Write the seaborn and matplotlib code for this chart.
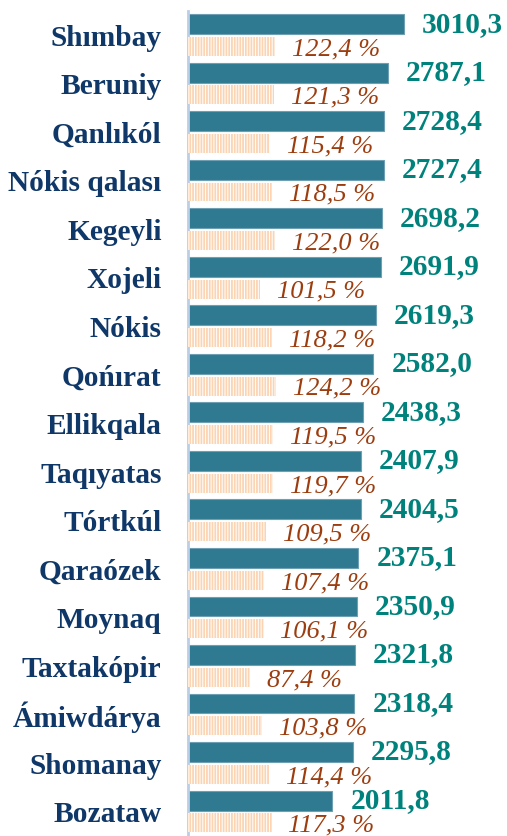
import numpy as np
import pandas as pd
import matplotlib
matplotlib.use("Agg")
import matplotlib.pyplot as plt
import seaborn as sns

# data
districts = ["Shımbay", "Beruniy", "Qanlıkól", "Nókis qalası", "Kegeyli", "Xojeli",
             "Nókis", "Qońırat", "Ellikqala", "Taqıyatas", "Tórtkúl", "Qaraózek",
             "Moynaq", "Taxtakópir", "Ámiwdárya", "Shomanay", "Bozataw"]
values = [3010.3, 2787.1, 2728.4, 2727.4, 2698.2, 2691.9, 2619.3, 2582.0, 2438.3,
          2407.9, 2404.5, 2375.1, 2350.9, 2321.8, 2318.4, 2295.8, 2011.8]
percents = [122.4, 121.3, 115.4, 118.5, 122.0, 101.5, 118.2, 124.2, 119.5,
            119.7, 109.5, 107.4, 106.1, 87.4, 103.8, 114.4, 117.3]

sns.set_style("white")
plt.rcParams["font.family"] = ["Liberation Serif", "DejaVu Serif"]
plt.rcParams["hatch.linewidth"] = 1.3

teal = "#2F7A90"
val_color = "#00827C"
pct_color = "#9C3D0F"
peach = "#FBD5B3"
navy = "#0F3868"

pos = np.arange(len(districts))
df = pd.DataFrame({"district": districts, "value": values, "pct": percents,
                   "y_val": pos - 0.23, "y_pct": pos + 0.23})

fig = plt.figure(figsize=(5.07, 8.36), dpi=100)
ax = fig.add_axes([188 / 507, 0.0, 1 - 188 / 507, 1 - 11 / 836])
ax2 = ax.twiny()

sns.barplot(data=df, x="value", y="y_val", orient="h", native_scale=True,
            width=0.41, color=teal, edgecolor="#6E9FB2", linewidth=0.8,
            saturation=1, ax=ax)
sns.barplot(data=df, x="pct", y="y_pct", orient="h", native_scale=True,
            width=0.39, color="white", edgecolor=peach, linewidth=0,
            hatch="||||||", saturation=1, ax=ax2)

ax.set_xlim(0, 4446)
ax2.set_xlim(0, 448)
ax.set_ylim(len(districts) - 0.5, -0.5)

for _, r in df.iterrows():
    ax.annotate(f"{r['value']:.1f}".replace(".", ","), xy=(r["value"], r["y_val"]),
                xytext=(13, 0), textcoords="offset points", va="center",
                ha="left", fontsize=21.2, fontweight="bold", color=val_color)
    ax2.annotate(f"{r['pct']:.1f} %".replace(".", ","), xy=(r["pct"], r["y_pct"]),
                 xytext=(12, -2), textcoords="offset points", va="center",
                 ha="left", fontsize=19, fontstyle="italic", color=pct_color)

ax.set_yticks(pos)
ax.set_yticklabels(districts, fontsize=21.2, fontweight="bold", color=navy)
ax.tick_params(axis="y", length=0, pad=19)
ax.set_xticks([])
ax2.set_xticks([])
ax.set_xlabel("")
ax.set_ylabel("")
ax2.set_xlabel("")
ax2.set_ylabel("")
for s in ["top", "right", "bottom"]:
    ax.spines[s].set_visible(False)
for s in ax2.spines.values():
    s.set_visible(False)
ax.spines["left"].set_color("#BCCDE6")
ax.spines["left"].set_linewidth(2)

fig.savefig("out.png", dpi=100)
